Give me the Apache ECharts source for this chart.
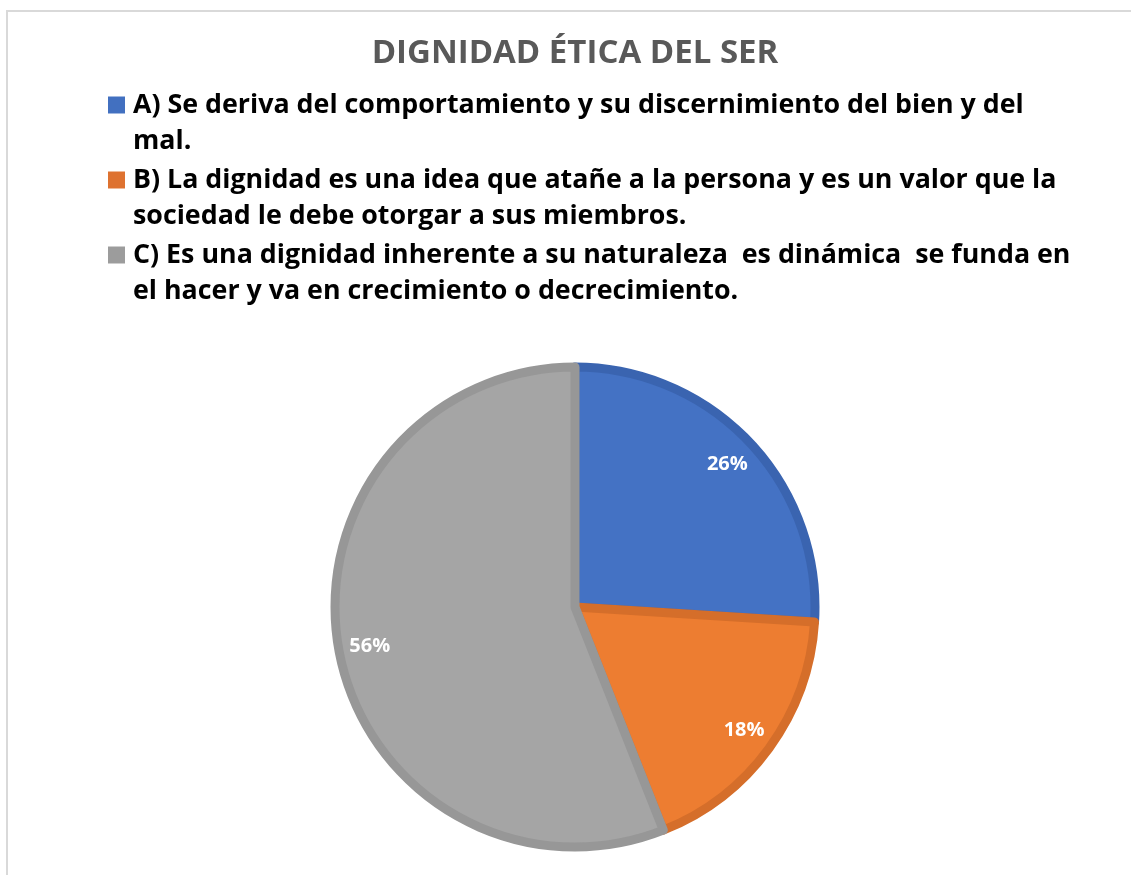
<!DOCTYPE html>
<html>
<head>
<meta charset="utf-8">
<script src="https://cdn.jsdelivr.net/npm/echarts@6/dist/echarts.min.js"></script>
<style>
  html, body { margin: 0; padding: 0; background: #fff; overflow: hidden; }
  #frame {
    position: absolute; left: 6px; top: 10px; width: 1140px; height: 880px;
    border-top: 2px solid #d9d9d9; border-left: 2px solid #d9d9d9;
  }
  #myChart { position: absolute; left: 0; top: 0; width: 1150px; height: 875px; }
</style>
</head>
<body>
<div id="frame"></div>
<div id="myChart"></div>
<script>
// datos del gráfico
var titulo = 'DIGNIDAD ÉTICA DEL SER'
var categorias = [
  'A) Se deriva del comportamiento y su discernimiento del bien y del mal.',
  'B) La dignidad es una idea que atañe a la persona y es un valor que la sociedad le debe otorgar a sus miembros.',
  'C) Es una dignidad inherente a su naturaleza  es dinámica  se funda en el hacer y va en crecimiento o decrecimiento.'
]
// mismo texto, partido en dos renglones como en la leyenda
var lineasLeyenda = [
  ['A) Se deriva del comportamiento y su discernimiento del bien y del', 'mal.'],
  ['B) La dignidad es una idea que atañe a la persona y es un valor que la', 'sociedad le debe otorgar a sus miembros.'],
  ['C) Es una dignidad inherente a su naturaleza  es dinámica  se funda en', 'el hacer y va en crecimiento o decrecimiento.']
]
var valores = [26, 18, 56]
var colores = ['#4472C4', '#ED7D31', '#A5A5A5']
var bordes = ['#3A64B0', '#D56E2A', '#979797']

var fuente = '"Open Sans"'

var datos = categorias.map(function (c, i) {
  return {
    name: c,
    value: valores[i],
    itemStyle: { color: colores[i], borderColor: bordes[i] }
  }
})

var rich = {
  g: { width: 8 },
  p: { width: 25 },
  t: { fontFamily: fuente, fontWeight: 'bold', fontSize: 26.8, color: '#000', lineHeight: 36 }
}
bordes.forEach(function (b, i) {
  rich['s' + i] = { width: 17, height: 17, backgroundColor: [ '#4270C0', '#DE7230', '#9C9C9C' ][i] }
})

var option = {
  animation: false,
  title: {
    text: titulo,
    left: 'center',
    top: 32,
    textStyle: { fontFamily: fuente, fontWeight: 'bold', fontSize: 33, color: '#595959' }
  },
  legend: {
    orient: 'vertical',
    left: 98,
    top: 82,
    icon: 'none',
    itemWidth: 0,
    itemHeight: 0,
    itemGap: 3,
    selectedMode: false,
    data: categorias,
    formatter: function (name) {
      var i = categorias.indexOf(name)
      var l = lineasLeyenda[i]
      return '{s' + i + '|}{g|}{t|' + l[0] + '}\n{p|}{t|' + l[1] + '}'
    },
    textStyle: { rich: rich, lineHeight: 36 }
  },
  series: [
    {
      name: 'pastel',
      type: 'pie',
      center: [575, 607],
      radius: 240,
      startAngle: 90,
      clockwise: true,
      silent: true,
      label: { show: false },
      labelLine: { show: false },
      itemStyle: { borderWidth: 9 },
      data: datos
    },
    {
      // capa transparente solo para colocar las etiquetas
      name: 'etiquetas',
      type: 'pie',
      center: [575, 607],
      radius: [168, 244],
      startAngle: 90,
      clockwise: true,
      silent: true,
      z: 5,
      itemStyle: { color: 'transparent', borderWidth: 0 },
      label: {
        show: true,
        position: 'inside',
        formatter: '{d}%',
        fontFamily: fuente,
        fontWeight: 'bold',
        fontSize: 20,
        color: '#fff'
      },
      labelLine: { show: false },
      data: categorias.map(function (c, i) { return { name: c, value: valores[i] } })
    }
  ]
}

var myChart = echarts.init(document.getElementById('myChart'))
myChart.setOption(option)
window.onresize = myChart.resize
</script>
</body>
</html>
